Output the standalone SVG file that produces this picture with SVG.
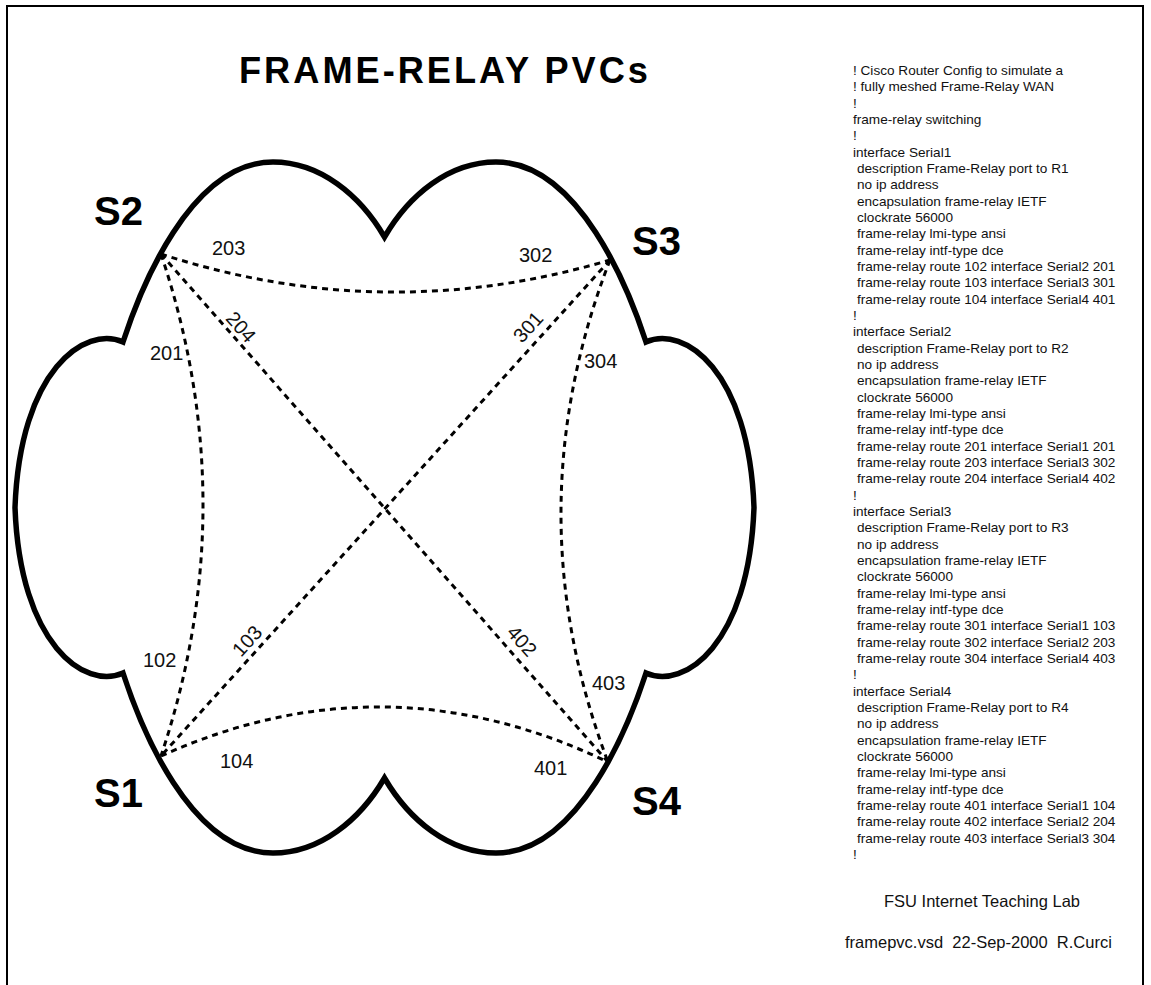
<svg xmlns="http://www.w3.org/2000/svg" width="1151" height="985" viewBox="0 0 1151 985">
<style>
.lbl{font-family:"Liberation Sans",Arial,sans-serif;font-size:20px;fill:#111}
.big{font-family:"Liberation Sans",Arial,sans-serif;font-size:40px;font-weight:bold;fill:#000}
.cfg{font-family:"Liberation Sans",Arial,sans-serif;font-size:13.6px;fill:#111}
.ft{font-family:"Liberation Sans",Arial,sans-serif;font-size:16.5px;fill:#111}
.pvc{fill:none;stroke:#000;stroke-width:3;stroke-dasharray:6 5}
</style>
<rect x="7" y="6" width="1136" height="1000" fill="#fff" stroke="#000" stroke-width="2"/>
<text x="239" y="83" font-family="Liberation Sans, Arial, sans-serif" font-size="36" font-weight="bold" letter-spacing="3" textLength="412" lengthAdjust="spacingAndGlyphs">FRAME-RELAY PVCs</text>
<g id="cloud">
<path d="M15,507.5 C20,370 85,325 123,342 C140,290 190,162 273,162 C320,162 360,195 384.5,237 C409,195 449,162 496,162 C579,162 629,290 646,342 C684,325 749,370 754,507.5 C749,645 684,690 646,673 C629,725 579,853 496,853 C449,853 409,820 384.5,778 C360,820 320,853 273,853 C190,853 140,725 123,673 C85,690 20,645 15,507.5 Z" fill="none" stroke="#000" stroke-width="5.5" stroke-linejoin="miter"/>
</g>
<g id="connectors">
<path class="pvc" d="M161,254 Q385,327 610,260"/>
<path class="pvc" d="M161,756 Q385,655 608,762"/>
<path class="pvc" d="M161,254 Q245,505 161,756"/>
<path class="pvc" d="M610,260 Q513,511 608,762"/>
<path class="pvc" d="M161,254 L608,762"/>
<path class="pvc" d="M610,260 L161,756"/>
</g>
<g id="pvc-labels">
<text class="lbl" x="212" y="255">203</text>
<text class="lbl" x="519" y="262">302</text>
<text class="lbl" x="150" y="360">201</text>
<text class="lbl" x="584" y="368">304</text>
<text class="lbl" x="143" y="667">102</text>
<text class="lbl" x="592" y="690">403</text>
<text class="lbl" x="220" y="768">104</text>
<text class="lbl" x="534" y="775">401</text>
<text class="lbl" text-anchor="middle" y="7" transform="translate(241,327) rotate(48.7)">204</text>
<text class="lbl" text-anchor="middle" y="7" transform="translate(522,641) rotate(48.7)">402</text>
<text class="lbl" text-anchor="middle" y="7" transform="translate(528,327) rotate(-47.8)">301</text>
<text class="lbl" text-anchor="middle" y="7" transform="translate(247,641) rotate(-47.8)">103</text>
</g>
<g id="S1"><text class="big" x="94" y="807">S1</text></g>
<g id="S2"><text class="big" x="94" y="225">S2</text></g>
<g id="S3"><text class="big" x="632" y="255">S3</text></g>
<g id="S4"><text class="big" x="632" y="815">S4</text></g>
<g id="config" class="cfg">
<text x="853" y="75">! Cisco Router Config to simulate a</text>
<text x="853" y="91.3">! fully meshed Frame-Relay WAN</text>
<text x="853" y="107.7">!</text>
<text x="853" y="124">frame-relay switching</text>
<text x="853" y="140.3">!</text>
<text x="853" y="156.7">interface Serial1</text>
<text x="857" y="173">description Frame-Relay port to R1</text>
<text x="857" y="189.3">no ip address</text>
<text x="857" y="205.6">encapsulation frame-relay IETF</text>
<text x="857" y="222">clockrate 56000</text>
<text x="857" y="238.3">frame-relay lmi-type ansi</text>
<text x="857" y="254.6">frame-relay intf-type dce</text>
<text x="857" y="271">frame-relay route 102 interface Serial2 201</text>
<text x="857" y="287.3">frame-relay route 103 interface Serial3 301</text>
<text x="857" y="303.6">frame-relay route 104 interface Serial4 401</text>
<text x="853" y="320">!</text>
<text x="853" y="336.3">interface Serial2</text>
<text x="857" y="352.6">description Frame-Relay port to R2</text>
<text x="857" y="369">no ip address</text>
<text x="857" y="385.3">encapsulation frame-relay IETF</text>
<text x="857" y="401.6">clockrate 56000</text>
<text x="857" y="418">frame-relay lmi-type ansi</text>
<text x="857" y="434.3">frame-relay intf-type dce</text>
<text x="857" y="450.6">frame-relay route 201 interface Serial1 201</text>
<text x="857" y="467">frame-relay route 203 interface Serial3 302</text>
<text x="857" y="483.3">frame-relay route 204 interface Serial4 402</text>
<text x="853" y="499.6">!</text>
<text x="853" y="516">interface Serial3</text>
<text x="857" y="532.3">description Frame-Relay port to R3</text>
<text x="857" y="548.6">no ip address</text>
<text x="857" y="565">encapsulation frame-relay IETF</text>
<text x="857" y="581.3">clockrate 56000</text>
<text x="857" y="597.6">frame-relay lmi-type ansi</text>
<text x="857" y="614">frame-relay intf-type dce</text>
<text x="857" y="630.3">frame-relay route 301 interface Serial1 103</text>
<text x="857" y="646.6">frame-relay route 302 interface Serial2 203</text>
<text x="857" y="663">frame-relay route 304 interface Serial4 403</text>
<text x="853" y="679.3">!</text>
<text x="853" y="695.6">interface Serial4</text>
<text x="857" y="712">description Frame-Relay port to R4</text>
<text x="857" y="728.3">no ip address</text>
<text x="857" y="744.6">encapsulation frame-relay IETF</text>
<text x="857" y="761">clockrate 56000</text>
<text x="857" y="777.3">frame-relay lmi-type ansi</text>
<text x="857" y="793.6">frame-relay intf-type dce</text>
<text x="857" y="810">frame-relay route 401 interface Serial1 104</text>
<text x="857" y="826.3">frame-relay route 402 interface Serial2 204</text>
<text x="857" y="842.6">frame-relay route 403 interface Serial3 304</text>
<text x="853" y="859">!</text>
</g>
<g id="footer" class="ft">
<text x="982" y="907" text-anchor="middle">FSU Internet Teaching Lab</text>
<text x="845" y="948" xml:space="preserve">framepvc.vsd  22-Sep-2000  R.Curci</text>
</g>
</svg>
